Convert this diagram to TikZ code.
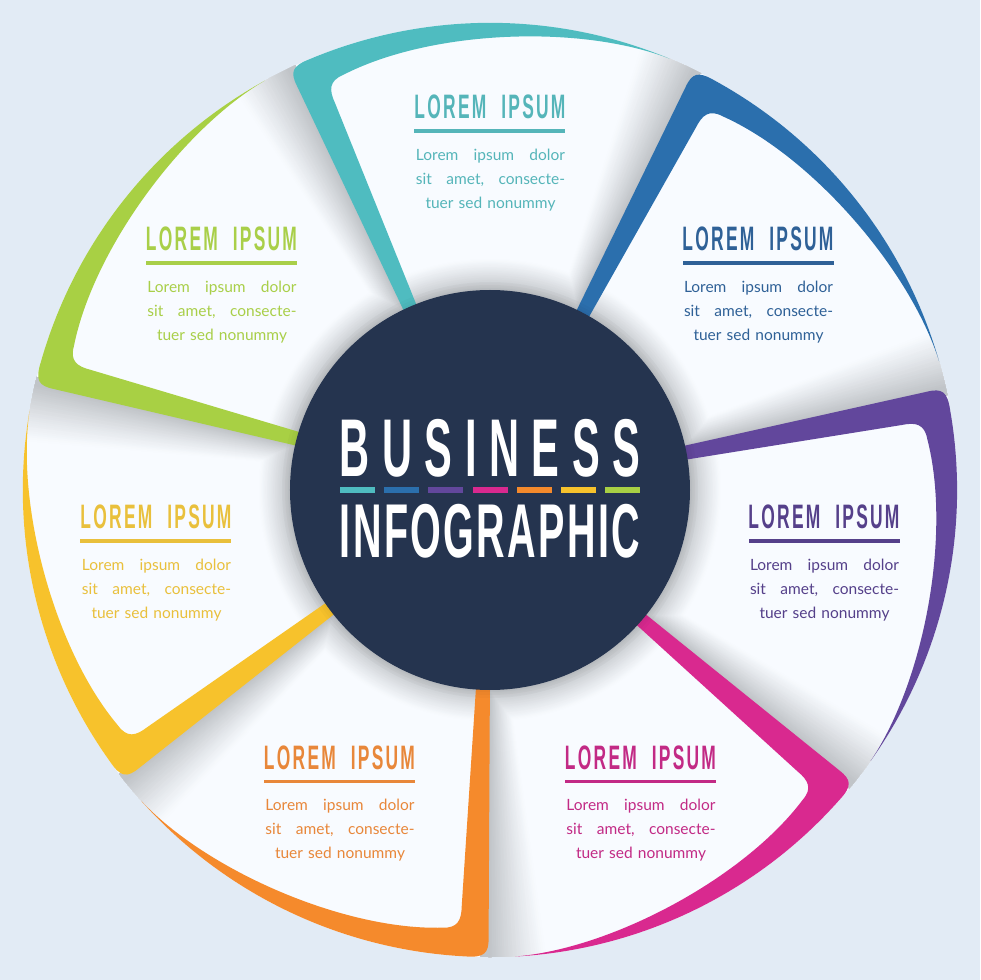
\documentclass[tikz,border=0pt]{standalone}
\usepackage{fontspec}
\usepackage{graphicx}
\setmainfont{Lato}
\newfontfamily\headfont[LetterSpace=13]{Liberation Sans Bold}
\newfontfamily\titlefont[LetterSpace=30]{Liberation Sans Bold}
\newfontfamily\titlefontb[LetterSpace=6]{Liberation Sans Bold}
\definecolor{bgc}{HTML}{E2EBF5}
\definecolor{panelc}{HTML}{F8FBFF}
\definecolor{navyc}{HTML}{25344F}
\definecolor{shadec}{HTML}{A6AAAE}
\definecolor{c0}{HTML}{4FBCC0}
\definecolor{c1}{HTML}{2B6FAD}
\definecolor{c2}{HTML}{62479C}
\definecolor{c3}{HTML}{D9298F}
\definecolor{c4}{HTML}{F58A2C}
\definecolor{c5}{HTML}{F7C22C}
\definecolor{c6}{HTML}{A8D044}
\definecolor{t0}{HTML}{55B5B9}
\definecolor{t1}{HTML}{2F6197}
\definecolor{t2}{HTML}{55408A}
\definecolor{t3}{HTML}{C22A85}
\definecolor{t4}{HTML}{E8873A}
\definecolor{t5}{HTML}{E9C03C}
\definecolor{t6}{HTML}{A9CF49}
\newcommand\infoblock[4]{%
  \fill[#4] (#2-75.5,#3-1.8) rectangle (#2+75.5,#3+1.8);
  \node[anchor=center,inner sep=0pt,text=#4] (#1h) at (#2,#3+24)
    {\resizebox*{151pt}{24pt}{\headfont LOREM\hspace{0.45em} IPSUM}};
  \node[anchor=center,inner sep=0pt,text=#4,text width=149pt,align=center,
    font=\fontsize{15.5}{24}\selectfont] (#1b) at (#2+0.5,#3-49)
    {\makebox[149pt][s]{Lorem\hfill ipsum\hfill dolor}\\
     \makebox[149pt][s]{sit\hfill amet,\hfill consecte-}\\
     tuer sed nonummy};
}
\begin{document}
\begin{tikzpicture}[x=1pt,y=1pt]
\useasboundingbox (-490,-490) rectangle (490,490);
\fill[bgc] (-490,-490) rectangle (490,490);
\fill[panelc] (0,0) circle[radius=467pt];
% soft shadows on the panels
\begin{scope}
  \clip (0,0) circle[radius=467pt];
  \foreach \k in {0,...,6}{
    \begin{scope}[rotate=-\k*51.428571]
      \clip (0,0) -- (-80,175) -- (-215,470) -- (0,620) -- (242,480) -- (100,190) -- cycle;
      \foreach \i in {1,...,28}{
        \pgfmathsetmacro\tt{\i/28}
        \pgfmathsetmacro\pct{int(68*pow(\tt,1.1))}
        \pgfmathsetmacro\fbx{80+27*\tt}
        \pgfmathsetmacro\ftx{143+52*\tt}
        \pgfmathsetmacro\fty{423-18*\tt}
        \pgfmathsetmacro\ex{\fbx+1.3*(\ftx-\fbx)}
        \pgfmathsetmacro\ey{223+1.3*(\fty-223)}
        \fill[shadec!\pct!panelc,rounded corners=10pt]
          (0,0) -- (\fbx,223) -- (\ex,\ey) -- (242,480) -- (100,190) -- cycle;
        \fill[shadec!\pct!panelc] (0,0) circle[radius=232pt-32pt*\tt];
      }
    \end{scope}
  }
\end{scope}
% coloured frames
\foreach \k in {0,...,6}{
  \begin{scope}[rotate=-\k*51.428571]
    \fill[c\k] (-78,162) -- (-193,404)
      .. controls (-200,418) and (-198,424) .. (-180,431)
      arc[start angle=112.7,end angle=67.4,radius=467pt]
      .. controls (90,466) and (-60,460) .. (-147,415)
      .. controls (-161,409) and (-161,400) .. (-155,387)
      -- (-65,164) -- cycle;
  \end{scope}
}
% faint shadow of the hub on the frames
\foreach \r in {202,205,208}{
  \fill[black,opacity=0.02] (0,0) circle[radius=\r pt];
}
\node[circle,fill=navyc,draw=none,minimum size=400pt,inner sep=0pt] (hub) at (0,0) {};
\node[inner sep=0pt,text=white] (title1) at (0,41.5)
  {\resizebox*{300pt}{58pt}{\titlefont BUSINESS}};
\node[inner sep=0pt,text=white] (title2) at (0,-41.5)
  {\resizebox*{300pt}{54pt}{\titlefontb INFOGRAPHIC}};
\fill[c0] (-150,-3) rectangle (-115,3);
\fill[c1] (-106,-3) rectangle (-71,3);
\fill[c2] (-62,-3) rectangle (-27,3);
\fill[c3] (-17,-3) rectangle (18,3);
\fill[c4] (27,-3) rectangle (62,3);
\fill[c5] (71,-3) rectangle (106,3);
\fill[c6] (115,-3) rectangle (150,3);
\infoblock{teal}{0}{359}{t0}
\infoblock{blue}{268}{227}{t1}
\infoblock{purple}{334}{-51}{t2}
\infoblock{magenta}{150.5}{-291.5}{t3}
\infoblock{orange}{-150.5}{-291.5}{t4}
\infoblock{yellow}{-334}{-51}{t5}
\infoblock{green}{-268.5}{227}{t6}
\end{tikzpicture}
\end{document}
